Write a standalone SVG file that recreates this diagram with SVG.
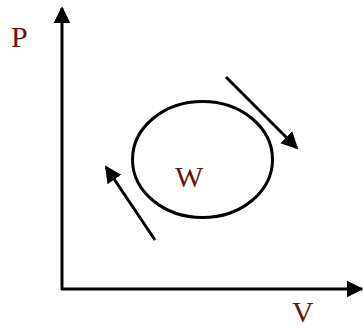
<svg xmlns="http://www.w3.org/2000/svg" width="363" height="329" viewBox="0 0 363 329">
<style>
.ln{stroke:#000;stroke-width:3;fill:none}
.lbl{font-family:"Liberation Serif",serif;font-size:30px;fill:#6a1212}
</style>
<defs>
<marker id="ah" viewBox="0 0 10 10" refX="9" refY="5" markerWidth="5.6" markerHeight="6" markerUnits="strokeWidth" orient="auto">
<path d="M0,0 L10,5 L0,10 Z" fill="#000"/>
</marker>
</defs>
<rect width="363" height="329" fill="#fff"/>
<g id="connectors">
<line class="ln" x1="62" y1="290" x2="62" y2="8" marker-end="url(#ah)"/>
<line class="ln" x1="61" y1="289" x2="362" y2="289" marker-end="url(#ah)"/>
<line class="ln" x1="226" y1="77" x2="297" y2="148" marker-end="url(#ah)"/>
<line class="ln" x1="155" y1="240" x2="106" y2="167" marker-end="url(#ah)"/>
</g>
<g id="cycle">
<ellipse class="ln" cx="202.5" cy="159.5" rx="70" ry="58" stroke-width="2.5"/>
<text class="lbl" x="175" y="187">W</text>
</g>
<g id="labelP"><text class="lbl" x="11" y="47">P</text></g>
<g id="labelV"><text class="lbl" x="292" y="322">V</text></g>
</svg>
